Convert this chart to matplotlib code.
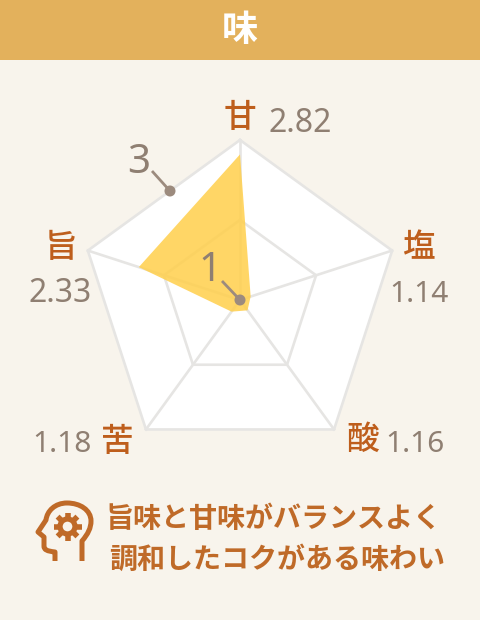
import numpy as np
import matplotlib
matplotlib.use('Agg')
import matplotlib.pyplot as plt
from matplotlib.path import Path
from matplotlib.patches import PathPatch, Rectangle, Circle

plt.rcParams['font.family'] = ['Noto Sans CJK JP', 'DejaVu Sans']

# data
title = '味'
categories = ['甘', '塩', '酸', '苦', '旨']
values = [2.82, 1.14, 1.16, 1.18, 2.33]
r_min = 1
r_max = 3
rings = [2, 3]
comment = ['旨味と甘味がバランスよく', '調和したコクがある味わい']

BG = '#F8F4EC'
HEADER = '#E3B15C'
GRID = '#E6E5E3'
ORANGE = '#BE5E1C'
GREY = '#8F7F72'
DOT = '#9C8B7E'
YELLOW = '#FFD04F'
ICON = '#BF6A28'

W, H = 480, 620
fig = plt.figure(figsize=(W / 100, H / 100), dpi=100, facecolor=BG)

# radar, centre (240,300), radius 160 px
ax = fig.add_axes([80 / W, 1 - 460 / H, 320 / W, 320 / H], projection='polar')
ax.set_theta_zero_location('N')
ax.set_theta_direction(-1)
ax.set_ylim(r_min, r_max)
ax.axis('off')

angles = np.deg2rad(np.arange(len(categories)) * 360 / len(categories))
closed = np.append(angles, angles[0])

ax.fill(closed, [r_max] * len(closed), color='white', lw=0, zorder=1, clip_on=False)
for r in rings:
    ax.plot(closed, [r] * len(closed), color=GRID, lw=1.9, zorder=2, clip_on=False)
for a in angles:
    ax.plot([a, a], [r_min, r_max], color=GRID, lw=1.9, zorder=2, clip_on=False)
ax.fill(closed, values + values[:1], color=YELLOW, alpha=0.87, lw=0, zorder=3, clip_on=False)

# everything else in pixel coords
ov = fig.add_axes([0, 0, 1, 1], facecolor='none')
ov.set_xlim(0, W)
ov.set_ylim(H, 0)
ov.axis('off')

ov.add_patch(Rectangle((0, 0), W, 60, color=HEADER, lw=0))
ov.text(240, 31, title, color='white', fontsize=26, fontweight='bold', ha='center', va='center')

label_pos = [(240, 117), (418, 248), (363, 439), (117, 441), (61, 248)]
value_pos = [(300, 123), (419, 294), (415, 444), (62, 444), (60, 294)]
for c, v, lp, vp in zip(categories, values, label_pos, value_pos):
    ov.text(lp[0], lp[1], c, color=ORANGE, fontsize=23.5, fontweight='medium', ha='center', va='center')
    # the 1 in the reference font is narrower, so the 1.xx labels run a bit smaller
    ov.text(vp[0], vp[1], '%.2f' % v, color=GREY, fontsize=23 if v >= 2 else 21.5, fontweight='medium',
            family=['Noto Sans', 'DejaVu Sans'], ha='center', va='center')

# scale markers
for txt, tx, ty, x0, y0, x1, y1 in [('1', 210, 271, 222, 281, 240, 300), ('3', 139, 163, 152, 171, 170, 191)]:
    ov.plot([x0, x1], [y0, y1], color=DOT, lw=2, solid_capstyle='butt', zorder=5)
    ov.add_patch(Circle((x1, y1), 5.5, color=DOT, lw=0, zorder=6))
    ov.text(tx, ty, txt, color=GREY, fontsize=29, fontweight='medium', family=['Noto Sans', 'DejaVu Sans'],
            ha='center', va='center', zorder=6)

# comment
ov.text(273, 519, comment[0], color=ICON, fontsize=20.2, fontweight='bold', ha='center', va='center')
ov.text(277, 560, comment[1], color=ICON, fontsize=20.2, fontweight='bold', ha='center', va='center')

# head icon
head = [(Path.MOVETO, (82, 561)), (Path.LINETO, (82, 541)),
        (Path.CURVE4, (88, 534)), (Path.CURVE4, (91, 528)), (Path.CURVE4, (91, 521)),
        (Path.CURVE4, (91, 510)), (Path.CURVE4, (80, 503)), (Path.CURVE4, (67, 503)),
        (Path.CURVE4, (55, 503)), (Path.CURVE4, (47, 511)), (Path.CURVE4, (46, 520)),
        (Path.LINETO, (38, 532)), (Path.LINETO, (44, 537)), (Path.LINETO, (44, 546)),
        (Path.CURVE4, (44, 550)), (Path.CURVE4, (47, 551)), (Path.CURVE4, (55, 552)),
        (Path.LINETO, (55, 561))]
codes, verts = zip(*head)
ov.add_patch(PathPatch(Path(verts, codes), fill=False, ec=ICON, lw=3.6, capstyle='butt', joinstyle='round'))

gx, gy = 67.5, 526.5
for a in np.deg2rad(np.arange(0, 360, 45)):
    ov.plot([gx + 6 * np.cos(a), gx + 14 * np.cos(a)], [gy + 6 * np.sin(a), gy + 14 * np.sin(a)],
            color=ICON, lw=4, solid_capstyle='butt')
ov.add_patch(Circle((gx, gy), 7.5, fill=False, ec=ICON, lw=3.8))

fig.savefig('out.png', dpi=100, facecolor=BG)
